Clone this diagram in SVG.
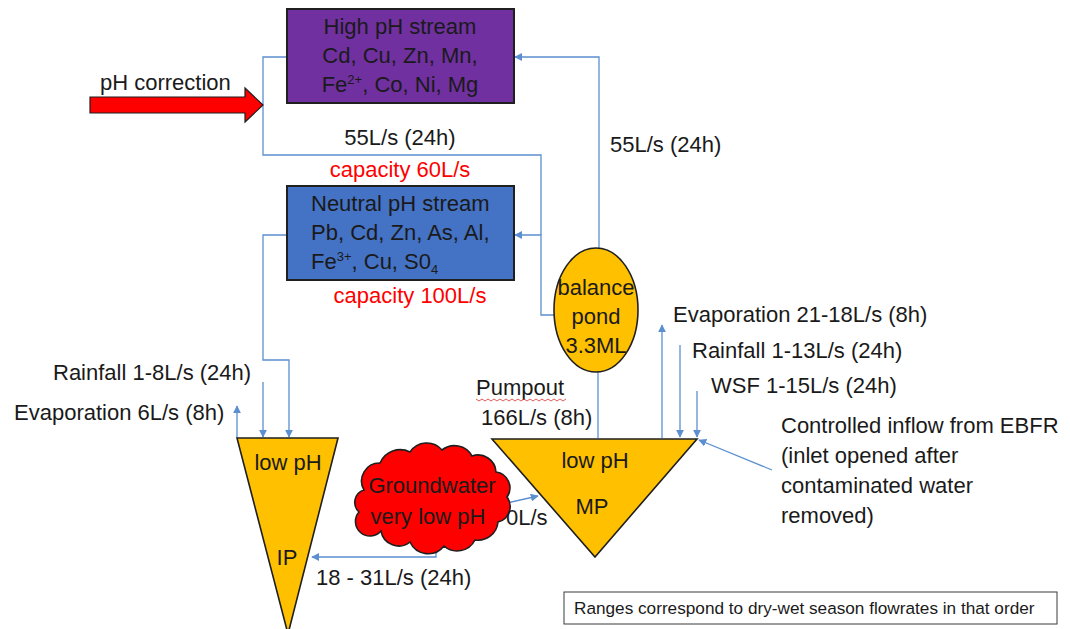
<svg xmlns="http://www.w3.org/2000/svg" width="1070" height="629" viewBox="0 0 1070 629">
  <style>
    text { font-family: "Liberation Sans", Arial, sans-serif; font-size: 22px; fill: #1a1a1a; }
    .mid { text-anchor: middle; }
    .red { fill: #ff0000; }
    .box { stroke: #1f1f1f; stroke-width: 2; }
    .pond { fill: #ffc000; stroke: #1f1f1f; stroke-width: 1.6; }
    .flow { fill: none; stroke: #5b8fd0; stroke-width: 1.3; }
    .arr { marker-end: url(#head); }
    .note { font-size: 17.2px; }
  </style>
  <defs>
    <marker id="head" viewBox="0 0 10 10" refX="9" refY="5" markerWidth="8" markerHeight="8" markerUnits="userSpaceOnUse" orient="auto">
      <path d="M0,0 L10,5 L0,10 Z" fill="#5b8fd0"/>
    </marker>
  </defs>

  <!-- connectors -->
  <g id="connectors">
    <!-- balance pond to treatment streams -->
    <polyline class="flow arr" points="556,315 541,315 541,235 515,235"/>
    <polyline class="flow" points="541,235 541,155 263,155 263,57 287,57"/>
    <polyline class="flow arr" points="599,248 599,57 515,57"/>
    <!-- neutral stream return to IP -->
    <polyline class="flow arr" points="287,235 263,235 263,360 289,360 289,437"/>
    <line class="flow arr" x1="263" y1="382" x2="263" y2="437"/>
    <line class="flow arr" x1="237" y1="438" x2="237" y2="406"/>
    <!-- groundwater flows -->
    <polyline class="flow arr" points="436,545 436,557 312,557"/>
    <line class="flow arr" x1="507" y1="503" x2="538" y2="496"/>
    <!-- pumpout from MP to balance pond -->
    <line class="flow" x1="598" y1="372" x2="598" y2="438"/>
    <!-- MP inputs and losses -->
    <line class="flow arr" x1="662" y1="438" x2="662" y2="325"/>
    <line class="flow arr" x1="680" y1="345" x2="680" y2="437"/>
    <line class="flow arr" x1="697" y1="391" x2="697" y2="437"/>
    <line class="flow arr" x1="772" y1="470" x2="699" y2="440"/>
  </g>

  <!-- pH correction arrow -->
  <g id="ph-correction">
    <path d="M90,97 L245,97 L245,88 L263,105 L245,122 L245,113 L90,113 Z" fill="#ff0000" stroke="#1f1f1f" stroke-width="1.2"/>
    <text x="100" y="90">pH correction</text>
  </g>

  <!-- high pH stream -->
  <g id="high-ph">
    <rect class="box" x="287" y="9" width="227" height="94" fill="#7030a0"/>
    <text class="mid" x="400" y="34">High pH stream</text>
    <text class="mid" x="400" y="63">Cd, Cu, Zn, Mn,</text>
    <text class="mid" x="400" y="92">Fe<tspan font-size="13" dy="-8">2+</tspan><tspan dy="8">, Co, Ni, Mg</tspan></text>
  </g>

  <g id="high-flow-label">
    <text class="mid" x="400" y="145">55L/s (24h)</text>
    <text class="mid red" x="400" y="177">capacity 60L/s</text>
  </g>

  <!-- neutral pH stream -->
  <g id="neutral-ph">
    <rect class="box" x="287" y="186" width="227" height="94" fill="#4472c4"/>
    <text x="311" y="211">Neutral pH stream</text>
    <text x="311" y="240">Pb, Cd, Zn, As, Al,</text>
    <text x="311" y="269">Fe<tspan font-size="13" dy="-8">3+</tspan><tspan dy="8">, Cu, S0</tspan><tspan font-size="13" dy="5">4</tspan></text>
    <text class="mid red" x="410" y="303">capacity 100L/s</text>
  </g>

  <g id="return-label">
    <text x="610" y="152">55L/s (24h)</text>
  </g>

  <!-- balance pond -->
  <g id="balance-pond">
    <ellipse class="pond" cx="596" cy="310" rx="42" ry="62"/>
    <text class="mid" x="596" y="295">balance</text>
    <text class="mid" x="596" y="324">pond</text>
    <text class="mid" x="596" y="353">3.3ML</text>
  </g>

  <!-- IP -->
  <g id="ip">
    <polygon class="pond" points="237,438 338,438 288,634"/>
    <text class="mid" x="288" y="470">low pH</text>
    <text class="mid" x="287" y="565">IP</text>
    <text x="53" y="380">Rainfall 1-8L/s (24h)</text>
    <text x="14" y="420">Evaporation 6L/s (8h)</text>
  </g>

  <!-- groundwater -->
  <g id="groundwater">
    <path d="M364,490 A18,18 0 0 1 380,463 A22,22 0 0 1 410,452 A20,20 0 0 1 442,450 A20,20 0 0 1 472,456 A18,18 0 0 1 496,472 A16,16 0 0 1 507,497 A16,16 0 0 1 498,522 A20,20 0 0 1 475,540 A20,20 0 0 1 444,546 A20,20 0 0 1 410,542 A18,18 0 0 1 381,531 A14,14 0 0 1 359,512 A13,13 0 0 1 364,490 Z" fill="#ff0000" stroke="#1f1f1f" stroke-width="1.6"/>
    <text class="mid" x="432" y="493">Groundwater</text>
    <text class="mid" x="428" y="524">very low pH</text>
    <text x="506" y="525">0L/s</text>
    <text x="316" y="585">18 - 31L/s (24h)</text>
  </g>

  <!-- MP -->
  <g id="mp">
    <polygon class="pond" points="492,439 697,439 595,557"/>
    <text class="mid" x="595" y="468">low pH</text>
    <text class="mid" x="592" y="514">MP</text>
    <text x="476" y="395">Pumpout</text>
    <polyline points="476,399 479,401 482,399 485,401 488,399 491,401 494,399 497,401 500,399 503,401 506,399 509,401 512,399 515,401 518,399 521,401 524,399 527,401 530,399 533,401 536,399 539,401 542,399 545,401 548,399 551,401 554,399 557,401 560,399 563,401 566,399" fill="none" stroke="#e03030" stroke-width="0.8"/>
    <text x="481" y="425">166L/s (8h)</text>
  </g>

  <g id="mp-labels">
    <text x="673" y="322">Evaporation 21-18L/s (8h)</text>
    <text x="692" y="358">Rainfall 1-13L/s (24h)</text>
    <text x="711" y="393">WSF 1-15L/s (24h)</text>
    <text x="781" y="433">Controlled inflow from EBFR</text>
    <text x="781" y="463">(inlet opened after</text>
    <text x="781" y="493">contaminated water</text>
    <text x="781" y="523">removed)</text>
  </g>

  <!-- legend note -->
  <g id="note">
    <rect x="564" y="592" width="493" height="32" fill="#ffffff" stroke="#3a3a3a" stroke-width="1"/>
    <text class="note" x="574" y="614">Ranges correspond to dry-wet season flowrates in that order</text>
  </g>
</svg>
